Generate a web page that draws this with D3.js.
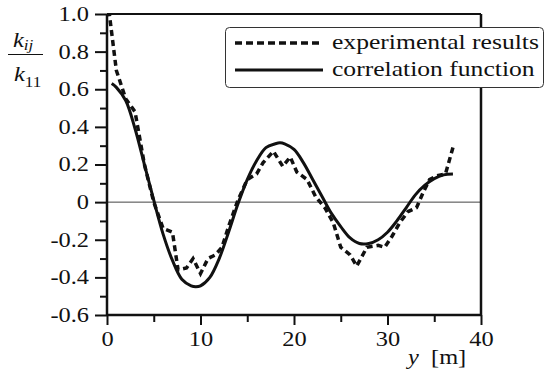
<!DOCTYPE html>
<html>
<head>
<meta charset="utf-8">
<script src="https://cdn.jsdelivr.net/npm/d3@7"></script>
<style>
  body { margin: 0; background: #fff; }
</style>
</head>
<body>
<svg id="chart" width="549" height="372"></svg>
<script>
// measured values (y in m, ratio k_ij/k_11)
const expX = [0.2, 1, 2, 3, 4, 5, 6, 7, 7.6, 8.5, 9.2, 10, 10.8, 11.6, 12.3, 13, 14, 15, 16, 16.7, 17.8, 18.8, 19.6, 20.3, 21.4, 22.3, 23.3, 24.2, 25, 26, 26.7, 27.8, 29, 29.7, 30.5, 31.3, 32.2, 33.1, 33.8, 34.5, 35.3, 36.2, 37];
const expY = [1.02, 0.7, 0.55, 0.48, 0.2, 0.0, -0.14, -0.16, -0.36, -0.35, -0.30, -0.38, -0.30, -0.28, -0.24, -0.13, 0.01, 0.12, 0.15, 0.21, 0.27, 0.19, 0.24, 0.16, 0.12, 0.03, -0.03, -0.11, -0.24, -0.28, -0.34, -0.24, -0.23, -0.24, -0.18, -0.11, -0.05, -0.03, 0.05, 0.12, 0.14, 0.15, 0.29];

const fitX = [0.5, 1, 2, 3, 4, 5, 6, 7, 8, 9, 9.5, 10, 11, 12, 13, 14, 15, 16, 17, 18, 18.5, 19, 20, 21, 22, 23, 24, 25, 26, 27, 28, 29, 30, 31, 32, 33, 34, 35, 36, 37];
const fitY = [0.63, 0.61, 0.54, 0.39, 0.2, 0.01, -0.17, -0.31, -0.41, -0.445, -0.45, -0.445, -0.40, -0.30, -0.16, -0.01, 0.12, 0.22, 0.29, 0.31, 0.315, 0.31, 0.28, 0.21, 0.12, 0.03, -0.06, -0.13, -0.19, -0.22, -0.22, -0.20, -0.16, -0.10, -0.03, 0.04, 0.09, 0.125, 0.145, 0.15];

const xTicks = [0, 10, 20, 30, 40];
const xMinor = [5, 15, 25, 35];
const yTicks = [-0.6, -0.4, -0.2, 0, 0.2, 0.4, 0.6, 0.8, 1.0];
const yTickLabels = ["-0.6", "-0.4", "-0.2", "0", "0.2", "0.4", "0.6", "0.8", "1.0"];
const yMinor = [-0.5, -0.3, -0.1, 0.1, 0.3, 0.5, 0.7, 0.9];
const legendLabels = ["experimental results", "correlation function"];

const FONT = "Liberation Serif";
const SX = 1.22; // the reference type is stretched sideways

const svg = d3.select("#chart").style("font-family", FONT);
const pLeft = 107, pRight = 481, pTop = 14, pBottom = 315;

const x = d3.scaleLinear().domain([0, 40]).range([pLeft, pRight]);
const y = d3.scaleLinear().domain([-0.6, 1.0]).range([pBottom, pTop]);

// zero line
svg.append("line")
  .attr("x1", pLeft).attr("x2", pRight)
  .attr("y1", y(0)).attr("y2", y(0))
  .attr("stroke", "#444").attr("stroke-width", 1);

// curves
svg.append("clipPath").attr("id", "clip")
  .append("rect").attr("x", pLeft).attr("y", pTop).attr("width", pRight - pLeft).attr("height", pBottom - pTop);

const expData = expX.map((d, i) => [d, expY[i]]);
const fitData = fitX.map((d, i) => [d, fitY[i]]);

svg.append("path")
  .datum(expData)
  .attr("clip-path", "url(#clip)")
  .attr("fill", "none")
  .attr("stroke", "#111")
  .attr("stroke-width", 3.5)
  .attr("stroke-dasharray", "6,4")
  .attr("d", d3.line().x(d => x(d[0])).y(d => y(d[1])));

svg.append("path")
  .datum(fitData)
  .attr("fill", "none")
  .attr("stroke", "#111")
  .attr("stroke-width", 3)
  .attr("d", d3.line().curve(d3.curveCatmullRom).x(d => x(d[0])).y(d => y(d[1])));

// frame
svg.append("line").attr("x1", pLeft).attr("x2", pRight).attr("y1", pTop).attr("y2", pTop)
  .attr("stroke", "#111").attr("stroke-width", 2);
svg.append("line").attr("x1", pRight).attr("x2", pRight).attr("y1", pTop).attr("y2", pBottom)
  .attr("stroke", "#111").attr("stroke-width", 2.5);

// axes
const yAxis = svg.append("g")
  .attr("transform", `translate(${pLeft},0)`)
  .call(d3.axisLeft(y).tickValues(yTicks).tickSize(12).tickPadding(6)
    .tickFormat((d, i) => yTickLabels[i]));
svg.append("g")
  .attr("transform", `translate(${pLeft},0)`)
  .call(d3.axisLeft(y).tickValues(yMinor).tickSize(7).tickFormat(""))
  .call(g => g.select(".domain").remove());

const xAxis = svg.append("g")
  .attr("transform", `translate(0,${pBottom})`)
  .call(d3.axisBottom(x).tickValues(xTicks).tickSize(10).tickPadding(7));
svg.append("g")
  .attr("transform", `translate(0,${pBottom})`)
  .call(d3.axisBottom(x).tickValues(xMinor).tickSize(7).tickFormat(""))
  .call(g => g.select(".domain").remove());

svg.selectAll("g").attr("font-family", FONT);
yAxis.select(".domain").attr("d", `M0,${pTop}V${pBottom}`);
xAxis.select(".domain").attr("d", `M${pLeft},0H${pRight}`);
svg.selectAll(".domain").attr("stroke", "#111").attr("stroke-width", 2.5);
svg.selectAll(".tick line").attr("stroke", "#111").attr("stroke-width", 2);
svg.selectAll(".tick text")
  .attr("font-family", FONT).style("font-family", FONT)
  .attr("font-size", 20).attr("fill", "#111");
yAxis.selectAll(".tick text")
  .attr("x", -18 / SX).attr("transform", `scale(${SX},1)`);
xAxis.selectAll(".tick text").attr("transform", `scale(${SX},1)`);

// helper for stretched labels
function label(px, py, size) {
  return svg.append("text")
    .attr("transform", `translate(${px},${py}) scale(${SX},1)`)
    .attr("fill", "#111")
    .attr("font-family", FONT)
    .style("font-family", FONT)
    .attr("font-size", size);
}

// axis titles
const xt = label(408, 364, 20);
xt.append("tspan").attr("font-style", "italic").text("y");
xt.append("tspan").text("\u2002[m]");

const num = label(13, 47, 20);
num.append("tspan").attr("font-style", "italic").text("k");
num.append("tspan").attr("font-style", "italic").attr("font-size", 14).attr("dy", 3).text("ij");
svg.append("line").attr("x1", 8).attr("x2", 43).attr("y1", 54.5).attr("y2", 54.5)
  .attr("stroke", "#111").attr("stroke-width", 1.2);
const den = label(14, 81, 20);
den.append("tspan").attr("font-style", "italic").text("k");
den.append("tspan").attr("font-size", 14).attr("dy", 6).text("11");

// legend
const lg = svg.append("g");
lg.append("rect").attr("x", 225.5).attr("y", 27.5).attr("width", 318).attr("height", 60).attr("rx", 4)
  .attr("fill", "#fff").attr("stroke", "#333").attr("stroke-width", 1);
legendLabels.forEach((name, i) => {
  const ly = 43 + i * 27;
  lg.append("line").attr("x1", 235).attr("x2", 323).attr("y1", ly).attr("y2", ly)
    .attr("stroke", "#111").attr("stroke-width", i === 0 ? 3.5 : 3)
    .attr("stroke-dasharray", i === 0 ? "7,4" : null);
  label(332, ly + 6, 21).text(name);
});
</script>
</body>
</html>
